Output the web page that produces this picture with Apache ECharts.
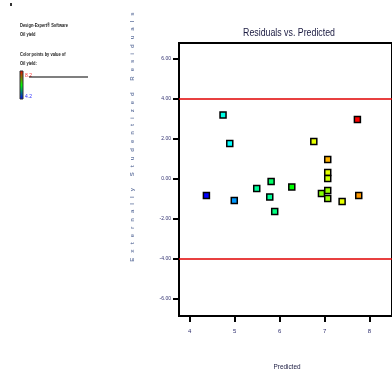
<!DOCTYPE html>
<html>
<head>
<meta charset="utf-8">
<script src="https://cdn.jsdelivr.net/npm/echarts@6/dist/echarts.min.js"></script>
<style>
	html, body { margin: 0; padding: 0; background: #fff; }
	#chart { width: 392px; height: 378px; }
</style>
</head>
<body>
<div id="chart"></div>
<script>
// predicted values, residuals and actual oil yield (used for colouring)
const predicted = [4.37, 4.99, 4.74, 4.89, 5.49, 5.81, 5.78, 5.89, 6.27, 6.76, 7.07, 7.07, 7.07, 6.93, 7.07, 7.07, 7.39, 7.76, 7.73]
const residuals = [-0.82, -1.07, 3.2, 1.77, -0.47, -0.12, -0.9, -1.62, -0.4, 1.88, 0.98, 0.33, 0.02, -0.72, -0.58, -0.98, -1.13, -0.83, 2.98]
const actual = [4.2, 4.8, 5.3, 5.2, 5.6, 5.8, 5.6, 5.7, 6.2, 7.1, 7.5, 7.1, 7.0, 6.7, 6.8, 6.8, 7.1, 7.6, 8.2]
const yTicks = [-6, -4, -2, 0, 2, 4, 6]
const xTicks = [4, 5, 6, 7, 8]
const limits = [4, -4]
const colorRange = [4.2, 8.2]

const chart = echarts.init(document.getElementById('chart'))
const font = '"Liberation Sans", sans-serif'
const points = predicted.map((p, i) => [p, residuals[i], actual[i]])
const yName = 'Externally Studentized Residuals'.split('').join('   ')

const option = {
	animation: false,
	grid: { left: 179, top: 43, right: -20, bottom: 62, show: true, borderColor: '#000', borderWidth: 2 },
	visualMap: {
		show: false,
		dimension: 2,
		min: colorRange[0],
		max: colorRange[1],
		inRange: { color: ['#0000ff', '#00ffff', '#00ff00', '#ffff00', '#ff0000'] },
	},
	xAxis: {
		type: 'value',
		min: 3.76,
		max: 8.5,
		splitLine: { show: false },
		axisLine: { show: true, onZero: false, lineStyle: { color: '#000', width: 2 } },
		axisTick: { customValues: xTicks, length: 6, lineStyle: { color: '#000', width: 2 } },
		axisLabel: { customValues: xTicks, fontSize: 6, color: '#303070', margin: 12 },
	},
	yAxis: {
		type: 'value',
		min: -6.85,
		max: 6.8,
		splitLine: { show: false },
		axisLine: { show: true, onZero: false, lineStyle: { color: '#000', width: 2 } },
		axisTick: { customValues: yTicks, length: 6, lineStyle: { color: '#000', width: 2 } },
		axisLabel: {
			customValues: yTicks,
			fontSize: 5,
			color: '#303070',
			margin: 8,
			formatter: (v) => v.toFixed(2),
		},
	},
	series: [
		{
			type: 'scatter',
			data: points,
			symbol: 'rect',
			symbolSize: 6,
			itemStyle: { borderColor: '#000', borderWidth: 1.5, opacity: 1 },
			markLine: {
				silent: true,
				symbol: 'none',
				label: { show: false },
				lineStyle: { color: '#e00000', width: 1.5, type: 'solid' },
				data: limits.map((v) => ({ yAxis: v })),
			},
		},
	],
	graphic: [
		{
			type: 'text',
			x: 289,
			y: 33,
			scaleX: 0.8,
			style: {
				text: 'Residuals vs. Predicted',
				font: '11px ' + font,
				fill: '#1a1a40',
				align: 'center',
				verticalAlign: 'middle',
			},
		},
		{
			type: 'text',
			x: 287,
			y: 367,
			scaleX: 0.8,
			style: { text: 'Predicted', font: '8px ' + font, fill: '#1a1a40', align: 'center', verticalAlign: 'middle' },
		},
		{
			type: 'text',
			x: 132,
			y: 137,
			rotation: Math.PI / 2,
			style: {
				text: yName,
				font: 'bold 6px ' + font,
				fill: '#7080a8',
				align: 'center',
				verticalAlign: 'middle',
			},
		},
		{ type: 'rect', shape: { x: 10, y: 3, width: 2, height: 3 }, style: { fill: '#333' } },
		{ type: 'text', x: 20, y: 23, scaleX: 0.8, style: { text: 'Design-Expert® Software', font: 'bold 5px ' + font, fill: '#222' } },
		{ type: 'text', x: 20, y: 32, scaleX: 0.8, style: { text: 'Oil yield', font: 'bold 5px ' + font, fill: '#222' } },
		{ type: 'text', x: 20, y: 52, scaleX: 0.8, style: { text: 'Color points by value of', font: 'bold 5px ' + font, fill: '#222' } },
		{ type: 'text', x: 20, y: 61, scaleX: 0.8, style: { text: 'Oil yield:', font: 'bold 5px ' + font, fill: '#222' } },
		{
			type: 'rect',
			shape: { x: 20, y: 71, width: 3, height: 28 },
			style: {
				stroke: '#333',
				lineWidth: 1,
				fill: new echarts.graphic.LinearGradient(0, 0, 0, 1, [
					{ offset: 0, color: '#ff0000' },
					{ offset: 0.5, color: '#00ff00' },
					{ offset: 1, color: '#0000ff' },
				]),
			},
		},
		{ type: 'text', x: 25, y: 73, style: { text: colorRange[1].toFixed(1), font: '5px ' + font, fill: '#ff3030' } },
		{ type: 'text', x: 25, y: 94, style: { text: colorRange[0].toFixed(1), font: '5px ' + font, fill: '#3030ff' } },
		{ type: 'line', shape: { x1: 29, y1: 77, x2: 88, y2: 77 }, style: { stroke: '#000', lineWidth: 1.2 } },
	],
}

chart.setOption(option)
</script>
</body>
</html>
